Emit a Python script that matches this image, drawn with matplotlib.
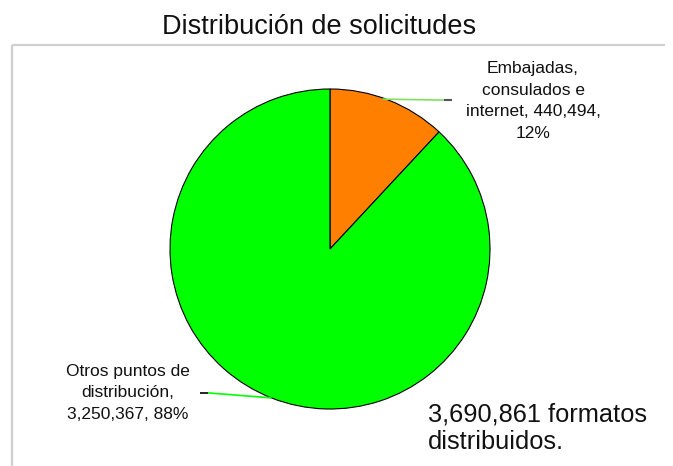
import matplotlib
matplotlib.use("Agg")
import matplotlib.pyplot as plt
import numpy as np

categories = ["Embajadas,\nconsulados e\ninternet", "Otros puntos de\ndistribución"]
values = [440494, 3250367]
colors = ["#FF8000", "#00FF00"]
title = "Distribución de solicitudes"
total_text = "3,690,861 formatos\ndistribuidos."

W, H = 673, 466
fig = plt.figure(figsize=(W / 100, H / 100), dpi=100)
ax = fig.add_axes([0, 0, 1, 1])

# plot area border (top and left visible)
ax.plot([12, 665], [H - 45, H - 45], color="#d0d0d0", lw=1.6, solid_capstyle="butt")
ax.plot([12, 12], [H - 45, -5], color="#d0d0d0", lw=1.6, solid_capstyle="butt")

cx, cy, r = 330, H - 249, 160
wedges, _ = ax.pie(values, colors=colors, startangle=90, counterclock=False,
                   center=(cx, cy), radius=r, frame=True,
                   wedgeprops=dict(edgecolor="black", linewidth=0.8))
ax.set_xlim(0, W)
ax.set_ylim(0, H)
ax.set_aspect("equal")
ax.axis("off")

total = sum(values)
label_font = ["Liberation Sans", "DejaVu Sans"]
for i, w in enumerate(wedges):
    mid = np.deg2rad((w.theta1 + w.theta2) / 2)
    px, py = cx + r * np.cos(mid), cy + r * np.sin(mid)
    if np.cos(mid) > 0:
        ex = 452
        ax.plot([px - 6, ex - 8], [py + 1, py], color="#80e060", lw=1.2, solid_capstyle="butt")
        ax.plot([ex - 8, ex], [py, py], color="#555555", lw=1.5, solid_capstyle="butt")
        txt = "Embajadas,\nconsulados e\ninternet, 440,494,\n12%"
        ax.text(533, py - 1, txt, ha="center", va="center", fontsize=12.5,
                family=label_font, linespacing=1.55, color="#111111")
    else:
        ex = 200
        ax.plot([px, ex + 8], [py, py + 5], color=colors[i], lw=1.2, solid_capstyle="butt")
        ax.plot([ex + 8, ex], [py + 5, py + 5], color="black", lw=1.2, solid_capstyle="butt")
        txt = "Otros puntos de\ndistribución,\n3,250,367, 88%"
        ax.text(128, py + 5, txt, ha="center", va="center", fontsize=12.5,
                family=label_font, linespacing=1.55, color="#111111")

ax.text(319, H - 27, title, ha="center", va="center", fontsize=19.5,
        family=["Liberation Sans", "DejaVu Sans"], color="#111111")
ax.text(428, H - 428, total_text, ha="left", va="center", fontsize=18.3,
        family=label_font, linespacing=1.2, color="#111111")

fig.savefig("out.png", dpi=100)
